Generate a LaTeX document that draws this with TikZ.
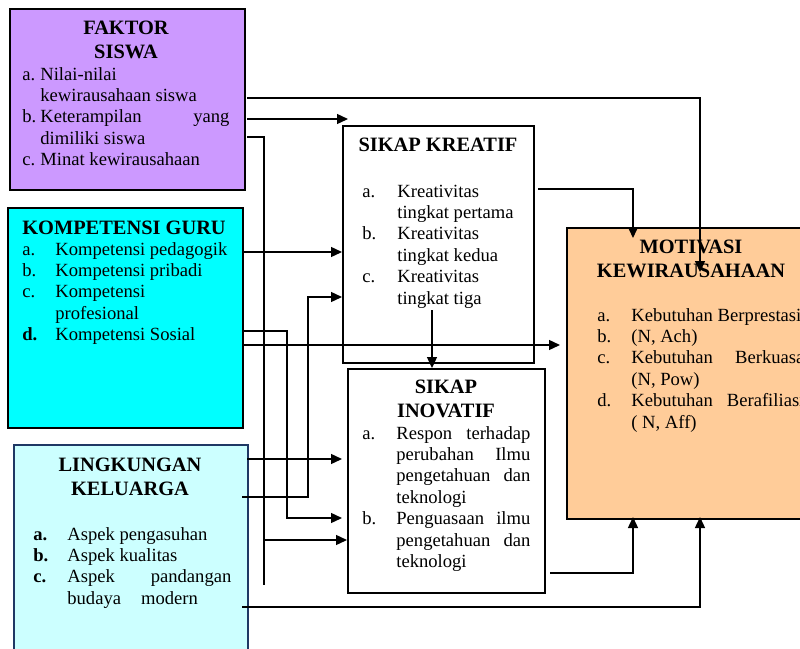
\documentclass[tikz,border=0pt]{standalone}
\usepackage{fontspec}
\setmainfont{Liberation Serif}
\usetikzlibrary{arrows.meta}
\definecolor{faktor}{HTML}{CC99FF}
\definecolor{guru}{HTML}{00FFFF}
\definecolor{keluarga}{HTML}{CCFFFF}
\definecolor{keluargaline}{HTML}{1F3864}
\definecolor{motivasi}{HTML}{FFCC99}
\newlength{\lab}
\newcommand{\lstfont}{\fontsize{9.3pt}{10.7pt}\selectfont}
\newcommand{\ttlfont}{\fontsize{10.2pt}{12pt}\selectfont\bfseries}
\newcommand{\itm}[2]{\par\hangindent=\lab\hangafter=1\noindent\makebox[\lab][l]{#1}#2\par}
\newcommand{\daftar}[3]{\parbox[t]{#1}{\lstfont\setlength{\lab}{#2}\hyphenpenalty=10000\exhyphenpenalty=10000\tolerance=10000 #3}}
\newcommand{\judul}[2]{\parbox[t]{#1}{\ttlfont\centering #2}}
\begin{document}
\begin{tikzpicture}[x=0.5pt,y=-0.5pt,
  box/.style={draw, line width=0.75pt, anchor=north west, inner sep=0pt},
  txt/.style={anchor=base west, inner sep=0pt},
  ttl/.style={anchor=base, inner sep=0pt},
  ln/.style={line width=0.7pt},
  arr/.style={line width=0.7pt, -{Triangle[length=5.5pt,width=5pt]}}]
\useasboundingbox (0,0) rectangle (800,649);
% boxes
\node[box, fill=faktor, minimum width=117.5pt, minimum height=90.5pt] (fs) at (9,8) {};
\node[box, fill=guru, minimum width=117.5pt, minimum height=110pt] (kg) at (7,207) {};
\node[box, fill=keluarga, draw=keluargaline, minimum width=117pt, minimum height=123pt] (lk) at (13,444) {};
\node[box, minimum width=95.5pt, minimum height=118.5pt] (kr) at (342,125) {};
\node[box, minimum width=98.5pt, minimum height=112pt] (in) at (347,368) {};
\node[box, fill=motivasi, minimum width=132.5pt, minimum height=145.5pt] (mk) at (566,227) {};
% titles
\node[ttl] (fs-t) at (126,34) {\judul{110pt}{FAKTOR\\SISWA}};
\node[ttl] (kg-t) at (124,234) {\judul{115pt}{KOMPETENSI GURU}};
\node[ttl] (lk-t) at (130,471) {\judul{110pt}{LINGKUNGAN\\KELUARGA}};
\node[ttl] (kr-t) at (438,151) {\judul{95pt}{SIKAP KREATIF}};
\node[ttl] (in-t) at (446,393) {\judul{95pt}{SIKAP\\INOVATIF}};
\node[ttl] (mk-t) at (691,253) {\judul{120pt}{MOTIVASI\\KEWIRAUSAHAAN}};
% lists
\node[txt] (fs-l) at (22,80) {\daftar{103.5pt}{9pt}{\itm{a.}{Nilai-nilai\\ kewirausahaan siswa}\itm{b.}{Keterampilan yang\linebreak dimiliki siswa}\itm{c.}{Minat kewirausahaan}}};
\node[txt] (kg-l) at (22,255) {\daftar{110pt}{16.5pt}{\itm{a.}{Kompetensi pedagogik}\itm{b.}{Kompetensi pribadi}\itm{c.}{Kompetensi\\ profesional}\itm{\textbf{d.}}{Kompetensi Sosial}}};
\node[txt] (lk-l) at (33,540) {\daftar{99pt}{17pt}{\itm{\textbf{a.}}{Aspek pengasuhan}\itm{\textbf{b.}}{Aspek kualitas}\itm{\textbf{c.}}{Aspek pandangan\linebreak budaya\hspace{10pt}modern}}};
\node[txt] (kr-l) at (362,197) {\daftar{80pt}{17.5pt}{\itm{a.}{Kreativitas\\ tingkat pertama}\itm{b.}{Kreativitas\\ tingkat kedua}\itm{c.}{Kreativitas\\ tingkat tiga}}};
\node[txt] (in-l) at (362,439) {\daftar{84pt}{17pt}{\itm{a.}{Respon terhadap\linebreak perubahan Ilmu\linebreak pengetahuan dan\linebreak teknologi}\itm{b.}{Penguasaan ilmu\linebreak pengetahuan dan\linebreak teknologi}}};
\node[txt] (mk-l) at (597,321) {\daftar{103.5pt}{17pt}{\itm{a.}{Kebutuhan~Berprestasi}\itm{b.}{(N, Ach)}\itm{c.}{Kebutuhan Berkuasa\linebreak (N, Pow)}\itm{d.}{Kebutuhan Berafiliasi\linebreak ( N, Aff)}}};
% connector ends
\coordinate (f1) at (247,98);
\coordinate (f2) at (247,119);
\coordinate (f3) at (247,137);
\coordinate (k1) at (242,252);
\coordinate (k2) at (242,331);
\coordinate (k3) at (242,345);
\coordinate (l1) at (247,459);
\coordinate (l2) at (242,497);
\coordinate (l3) at (242,607);
\coordinate (r1) at (538,189);
\coordinate (r2) at (432,310);
\coordinate (v1) at (550,573);
\coordinate (m1) at (700,272);
\coordinate (m2) at (633,238);
\coordinate (m3) at (633,517);
\coordinate (m4) at (700,517);
\coordinate (f2e) at (348,119);
\coordinate (f3e) at (264,585);
\coordinate (f3b) at (264,540);
\coordinate (k2b) at (287,518);
\coordinate (k3e) at (560,345);
\coordinate (l2b) at (308,297);
% connectors
\draw[arr] (f1) -| (m1);
\draw[arr] (f2) -- (f2e);
\draw[ln] (f3) -| (f3e);
\draw[arr] (f3b) -- (f3b -| in.west);
\foreach \c in {k1,l1} \draw[arr] (\c) -- (\c -| kr.west);
\draw[arr] (k2) -| (k2b) -- (k2b -| kr.west);
\draw[arr] (k3) -- (k3e);
\draw[arr] (l2) -| (l2b) -- (l2b -| kr.west);
\draw[arr] (l3) -| (m4);
\draw[arr] (r1) -| (m2);
\draw[arr] (v1) -| (m3);
\draw[arr] (r2) -- (r2 |- in.north);
\end{tikzpicture}
\end{document}
